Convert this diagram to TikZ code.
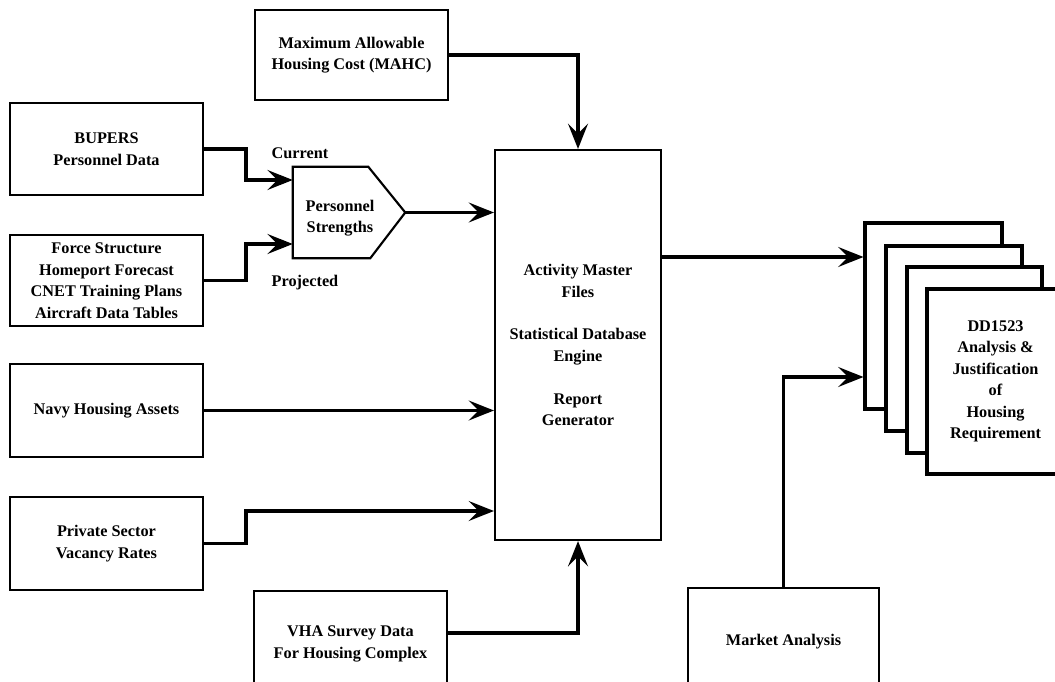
\documentclass[tikz,border=0pt]{standalone}
\usepackage{fontspec}
\setmainfont{Liberation Serif}
\usetikzlibrary{arrows.meta,calc}
\begin{document}
\begin{tikzpicture}[x=0.75pt,y=-0.75pt,
  txt/.style={font=\bfseries\fontsize{12.2}{16.1}\selectfont,align=center,inner sep=0pt},
  box/.style 2 args={txt,draw,line width=1.6pt,fill=white,minimum width=#1*0.75pt,minimum height=#2*0.75pt},
  page/.style 2 args={txt,draw,line width=2.3pt,fill=white,minimum width=#1*0.75pt,minimum height=#2*0.75pt},
  conn/.style={line width=2.4pt,-{Stealth[length=19pt,width=15pt,inset=7.5pt]}},
  frame/.style={line width=1.6pt}
]
\useasboundingbox (0,0) rectangle (1055,681);

% input boxes
\node[box={193}{90}] (mahc) at (351.5,55) {Maximum Allowable\\Housing Cost (MAHC)};
\node[box={193}{92}] (bupers) at (106.5,149) {BUPERS\\Personnel Data};
\node[box={193}{91}] (force) at (106.5,280.5) {Force Structure\\Homeport Forecast\\CNET Training Plans\\Aircraft Data Tables};
\node[box={193}{93}] (navy) at (106.5,410.5) {Navy Housing Assets};
\node[box={193}{93}] (priv) at (106.5,543.5) {Private Sector\\Vacancy Rates};
\node[box={193}{106}] (vha) at (350.5,644) {VHA Survey Data\\For Housing Complex};
\node[box={191}{108}] (market) at (783.5,642) {Market Analysis};

% central box
\node[box={166}{390}] (center) at (578,345) {Activity Master\\Files\\[16pt]Statistical Database\\Engine\\[16pt]Report\\Generator};

% personnel strengths pentagon
\node[txt,minimum width=112*0.75pt,minimum height=91*0.75pt] (pent) at (349,212.5) {};
\draw[frame] (pent.north west) -- ([xshift=-37*0.75pt]pent.north east) -- (pent.east)
  -- ([xshift=-35*0.75pt]pent.south east) -- (pent.south west) -- cycle;
\node[txt] (pentlbl) at (340,218) {Personnel\\Strengths};

\node[txt] (current) at (300,153) {Current};
\node[txt] (projected) at (305,283) {Projected};

% stacked pages
\node[page={137}{186}] (p1) at (933.5,316) {};
\node[page={136}{185}] (p2) at (954,338.5) {};
\node[page={135}{186}] (p3) at (974.5,360) {};
\node[page={137}{185}] (p4) at (995.5,381.5) {DD1523\\Analysis \&\\Justification\\of\\Housing\\Requirement};

% connectors
\draw[conn] (mahc.east) -| (center.north);
\draw[conn] (bupers.east) -- ++(42,0) |- ($(pent.west)+(0,-32.5)$);
\draw[conn] (force.east) -- ++(42,0) |- ($(pent.west)+(0,31.5)$);
\draw[conn] (pent.east) -- (pent.east -| center.west);
\draw[conn] (navy.east) -- (navy.east -| center.west);
\draw[conn] (priv.east) -- ++(42,0) |- ($(center.west)+(0,166)$);
\coordinate (vhaout) at ($(vha.east)+(0,-11)$);
\draw[conn] (vhaout) -| (center.south);
\coordinate (cout) at ($(center.east)+(0,-88)$);
\draw[conn] (cout) -- (cout -| p1.west);
\draw[conn] (market.north) |- ($(p1.west)+(0,61)$);
\end{tikzpicture}
\end{document}
